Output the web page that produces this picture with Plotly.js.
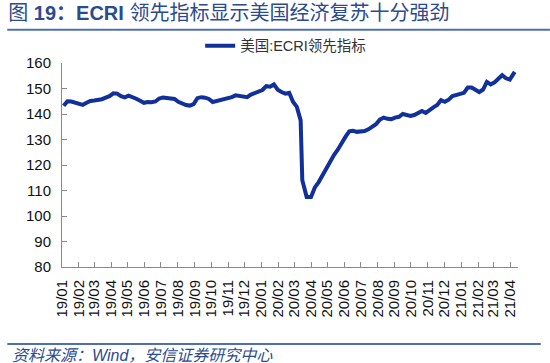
<!DOCTYPE html>
<html>
<head>
<meta charset="utf-8">
<script src="https://cdn.plot.ly/plotly-3.0.1.min.js"></script>
<style>html,body{margin:0;padding:0;background:#fff;}#chart{width:550px;height:363px;}</style>
</head>
<body>
<div id="chart"></div>
<script>
const seriesName = "美国:ECRI领先指标";
const dates = [
"2019-01-04","2019-01-11","2019-01-18","2019-01-25","2019-02-01","2019-02-08","2019-02-15","2019-02-22",
"2019-03-01","2019-03-08","2019-03-15","2019-03-22","2019-03-29","2019-04-05","2019-04-12","2019-04-19",
"2019-04-26","2019-05-03","2019-05-10","2019-05-17","2019-05-24","2019-05-31","2019-06-07","2019-06-14",
"2019-06-21","2019-06-28","2019-07-05","2019-07-12","2019-07-19","2019-07-26","2019-08-02","2019-08-09",
"2019-08-16","2019-08-23","2019-08-30","2019-09-06","2019-09-13","2019-09-20","2019-09-27","2019-10-04",
"2019-10-11","2019-10-18","2019-10-25","2019-11-01","2019-11-08","2019-11-15","2019-11-22","2019-11-29",
"2019-12-06","2019-12-13","2019-12-20","2019-12-27","2020-01-03","2020-01-10","2020-01-17","2020-01-24",
"2020-01-31","2020-02-07","2020-02-14","2020-02-21","2020-02-28","2020-03-06","2020-03-13","2020-03-16",
"2020-03-24","2020-04-01","2020-04-08","2020-04-15","2020-04-22","2020-04-29","2020-05-06","2020-05-13",
"2020-05-20","2020-05-27","2020-06-03","2020-06-10","2020-06-17","2020-06-24","2020-07-01","2020-07-08",
"2020-07-15","2020-07-22","2020-07-29","2020-08-05","2020-08-12","2020-08-19","2020-08-26","2020-09-02",
"2020-09-09","2020-09-16","2020-09-23","2020-09-30","2020-10-07","2020-10-14","2020-10-21","2020-10-28",
"2020-11-04","2020-11-11","2020-11-18","2020-11-25","2020-12-02","2020-12-09","2020-12-16","2020-12-23",
"2020-12-30","2021-01-06","2021-01-13","2021-01-20","2021-01-27","2021-02-03","2021-02-10","2021-02-17",
"2021-02-24","2021-03-03","2021-03-10","2021-03-17","2021-03-24","2021-03-31","2021-04-09"
];
const values = [
143.2,145.0,144.9,144.4,143.9,143.6,144.4,145.1,
145.3,145.5,145.8,146.4,147.0,148.1,148.0,147.0,
146.5,147.2,146.8,146.0,145.2,144.4,144.7,144.6,
144.9,146.1,146.5,146.2,146.3,145.9,144.8,144.1,
143.5,143.3,143.9,146.2,146.6,146.4,145.9,144.7,
145.0,145.3,145.6,146.0,146.6,147.3,147.0,147.1,
146.6,147.6,148.1,148.5,149.4,150.9,150.7,151.6,
149.5,148.6,148.0,148.3,144.8,142.8,137.5,114.0,
107.5,107.5,111.2,113.3,116.1,118.9,121.9,123.9,
126.0,128.7,131.0,133.2,133.4,133.0,133.0,133.3,
134.0,134.9,136.0,137.8,138.6,138.1,138.0,138.6,
138.9,140.0,139.6,139.2,139.6,140.3,141.2,140.4,
141.6,142.6,143.5,145.4,144.8,145.6,147.0,147.5,
147.6,148.3,150.4,150.4,149.5,148.6,149.6,152.6,
151.6,152.4,153.8,155.2,154.0,153.5,156.5
];
const yTicks = [80,90,100,110,120,130,140,150,160];

const trace = {
  x: dates, y: values, type: "scatter", mode: "lines", name: seriesName,
  line: {color: "#12309a", width: 4}
};
const fontLatin = "Arial, 'Liberation Sans', 'Noto Sans CJK SC', sans-serif";
const layout = {
  width: 550, height: 363,
  margin: {l: 62, r: 32, t: 63, b: 96},
  paper_bgcolor: "#fff", plot_bgcolor: "#fff",
  showlegend: true,
  legend: {x: 0.303, y: 1.163, xanchor: "left", yanchor: "top", orientation: "h",
    font: {family: "'Liberation Sans', 'Noto Sans CJK SC', sans-serif", size: 14.5, color: "#333"},
    bgcolor: "rgba(0,0,0,0)"},
  title: {
    text: "图 <b>19：ECRI</b> 领先指标显示美国经济复苏十分强劲",
    x: 0.015, xanchor: "left", xref: "container",
    y: 0.964, yanchor: "middle", yref: "container",
    font: {family: "'Liberation Sans', 'Noto Sans CJK SC', sans-serif", size: 20, color: "#2b4b8f"}
  },
  xaxis: {
    type: "date",
    range: ["2019-01-01", "2021-04-15"],
    tick0: "2019-01-01", dtick: "M1", tickformat: "%y/%m",
    tickangle: -90,
    ticks: "inside", ticklen: 5, tickcolor: "#8a8a8a", tickwidth: 1,
    showline: true, linecolor: "#8a8a8a", linewidth: 1,
    showgrid: false, zeroline: false,
    ticklabelstandoff: 6,
    tickfont: {family: fontLatin, size: 15, color: "#111"}
  },
  yaxis: {
    range: [80, 160], tickvals: yTicks,
    ticks: "inside", ticklen: 5, tickcolor: "#8a8a8a", tickwidth: 1,
    showline: true, linecolor: "#8a8a8a", linewidth: 1,
    showgrid: false, zeroline: false,
    ticklabelstandoff: 7,
    tickfont: {family: fontLatin, size: 15, color: "#111"}
  },
  shapes: [
    {type: "line", xref: "paper", yref: "paper", x0: -0.12, x1: 1.07, y0: 1.163, y1: 1.163,
     line: {color: "#4f6fb3", width: 2}},
    {type: "line", xref: "paper", yref: "paper", x0: -0.12, x1: 1.05, y0: -0.377, y1: -0.377,
     line: {color: "#4f6fb3", width: 2}}
  ],
  annotations: [
    {text: "<i>资料来源：Wind，安信证券研究中心</i>", xref: "paper", yref: "paper",
     x: -0.114, y: -0.435, xanchor: "left", yanchor: "middle", showarrow: false,
     font: {family: "'Liberation Sans', 'Noto Sans CJK SC', sans-serif", size: 16, color: "#2b4b8f"}}
  ]
};
Plotly.newPlot("chart", [trace], layout, {displayModeBar: false, staticPlot: true});
</script>
</body>
</html>
